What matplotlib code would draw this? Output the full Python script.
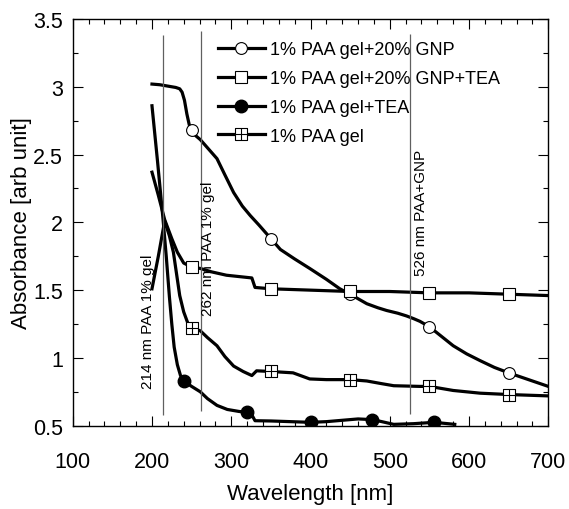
import matplotlib
matplotlib.use("Agg")
import matplotlib.pyplot as plt
import numpy as np
from matplotlib.path import Path
from matplotlib.ticker import MultipleLocator

plt.rcParams['font.family'] = ['Liberation Sans', 'DejaVu Sans']

# Curvas (comprimento de onda [nm], absorbância)
gnp_x = [200, 210, 220, 230, 235, 238, 241, 244, 247, 250, 255, 261, 270, 282, 292, 303,
         314, 324, 335, 350, 362, 380, 399, 420, 437, 450, 462, 471, 485, 496, 510, 521,
         530, 538, 550, 565, 580, 597, 614, 632, 650, 675, 700]
gnp_y = [3.02, 3.015, 3.005, 2.995, 2.985, 2.96, 2.90, 2.80, 2.72, 2.68, 2.64, 2.61, 2.55,
         2.47, 2.35, 2.22, 2.12, 2.05, 1.98, 1.88, 1.80, 1.73, 1.66, 1.58, 1.51, 1.47, 1.43,
         1.40, 1.37, 1.35, 1.33, 1.31, 1.29, 1.27, 1.23, 1.16, 1.09, 1.03, 0.98, 0.93, 0.89,
         0.84, 0.79]

gnp_tea_x = [200, 208, 216, 225, 232, 240, 250, 261, 275, 294, 310, 326, 330, 350, 400,
             450, 500, 550, 600, 650, 700]
gnp_tea_y = [2.37, 2.20, 2.02, 1.88, 1.78, 1.70, 1.67, 1.66, 1.635, 1.61, 1.60, 1.59, 1.52,
             1.51, 1.50, 1.49, 1.49, 1.48, 1.48, 1.47, 1.46]

tea_x = [200, 207, 214, 218, 222, 225, 228, 232, 236, 240, 250, 261, 270, 282, 295, 310,
         320, 326, 330, 350, 375, 400, 420, 440, 460, 478, 490, 505, 530, 556, 582]
tea_y = [2.86, 2.45, 2.02, 1.75, 1.45, 1.25, 1.08, 0.95, 0.87, 0.83, 0.79, 0.75, 0.70,
         0.65, 0.62, 0.605, 0.60, 0.58, 0.537, 0.535, 0.53, 0.525, 0.53, 0.54, 0.55, 0.545,
         0.53, 0.51, 0.515, 0.525, 0.51]

gel_x = [200, 208, 216, 222, 227, 231, 235, 240, 245, 250, 261, 270, 282, 292, 303, 315,
         326, 332, 350, 378, 399, 420, 450, 471, 490, 505, 538, 550, 565, 580, 614, 650, 700]
gel_y = [1.51, 1.75, 2.01, 1.90, 1.78, 1.62, 1.46, 1.34, 1.26, 1.22, 1.20, 1.15, 1.09,
         1.01, 0.94, 0.90, 0.87, 0.905, 0.90, 0.89, 0.845, 0.84, 0.84, 0.83, 0.81, 0.795,
         0.79, 0.79, 0.775, 0.76, 0.74, 0.73, 0.72]

# posições dos marcadores em cada curva
gnp_mk = [250, 350, 450, 550, 650]
gnp_tea_mk = [250, 350, 450, 550, 650]
tea_mk = [240, 320, 400, 478, 556]
gel_mk = [250, 350, 450, 550, 650]

rotulos = ['1% PAA gel+20% GNP', '1% PAA gel+20% GNP+TEA', '1% PAA gel+TEA', '1% PAA gel']

# linhas verticais e textos
linhas_x = [214, 262, 526]
linhas_y0 = [0.58, 0.61, 0.59]
linhas_y1 = [3.38, 3.41, 3.39]
textos = ['214 nm PAA 1% gel', '262 nm PAA 1% gel', '526 nm PAA+GNP']
textos_x = [195, 271, 540]
textos_y = [0.78, 1.32, 1.61]

# marcador quadrado com cruz
quadrado_cruz = Path(
    [(-1, -1), (1, -1), (1, 1), (-1, 1), (-1, -1), (0, -1), (0, 1), (-1, 0), (1, 0)],
    [Path.MOVETO, Path.LINETO, Path.LINETO, Path.LINETO, Path.CLOSEPOLY,
     Path.MOVETO, Path.LINETO, Path.MOVETO, Path.LINETO])

fig = plt.figure(figsize=(5.69, 5.10), dpi=100)
ax = fig.add_axes([0.1278, 0.1633, 0.8358, 0.7975])


def marcar(xs, mk):
    return [x in mk for x in xs]


lw = 2.3
ax.plot(gnp_x, gnp_y, color='black', lw=lw, marker='o', ms=8.5, mfc='white', mec='black',
        mew=0.8, markevery=marcar(gnp_x, gnp_mk), label=rotulos[0])
ax.plot(gnp_tea_x, gnp_tea_y, color='black', lw=lw, marker='s', ms=8.5, mfc='white',
        mec='black', mew=0.8, markevery=marcar(gnp_tea_x, gnp_tea_mk), label=rotulos[1])
ax.plot(tea_x, tea_y, color='black', lw=lw, marker='o', ms=9, mfc='black', mec='black',
        markevery=marcar(tea_x, tea_mk), label=rotulos[2])
ax.plot(gel_x, gel_y, color='black', lw=lw, marker=quadrado_cruz, ms=8.5, mfc='white',
        mec='black', mew=0.8, markevery=marcar(gel_x, gel_mk), label=rotulos[3])

ax.vlines(linhas_x, linhas_y0, linhas_y1, colors='#606060', lw=0.9)
for t, tx, ty in zip(textos, textos_x, textos_y):
    ax.text(tx, ty, t, rotation=90, ha='center', va='bottom', fontsize=11)

ax.set_xlim(100, 700)
ax.set_ylim(0.5, 3.5)
ax.xaxis.set_major_locator(MultipleLocator(100))
ax.xaxis.set_minor_locator(MultipleLocator(20))
ax.yaxis.set_major_locator(MultipleLocator(0.5))
ax.yaxis.set_minor_locator(MultipleLocator(0.25))
ax.yaxis.set_major_formatter(plt.FuncFormatter(lambda v, p: f'{v:g}'))

ax.tick_params(which='both', direction='in', top=True, right=True, width=0.8)
ax.tick_params(which='major', length=7, labelsize=15.5)
ax.tick_params(which='minor', length=3.5)
ax.tick_params(axis='x', which='major', pad=18)
ax.tick_params(axis='y', which='major', pad=7)
for s in ax.spines.values():
    s.set_linewidth(1.0)

ax.set_xlabel('Wavelength [nm]', fontsize=16, labelpad=8)
ax.set_ylabel('Absorbance [arb unit]', fontsize=16, labelpad=1)

ax.legend(loc='upper left', bbox_to_anchor=(0.3055, 0.945), frameon=False, fontsize=13,
          handlelength=2.6, handletextpad=0.3, labelspacing=0.65, borderpad=0,
          borderaxespad=0, numpoints=1)

fig.savefig('out.png', dpi=100)
